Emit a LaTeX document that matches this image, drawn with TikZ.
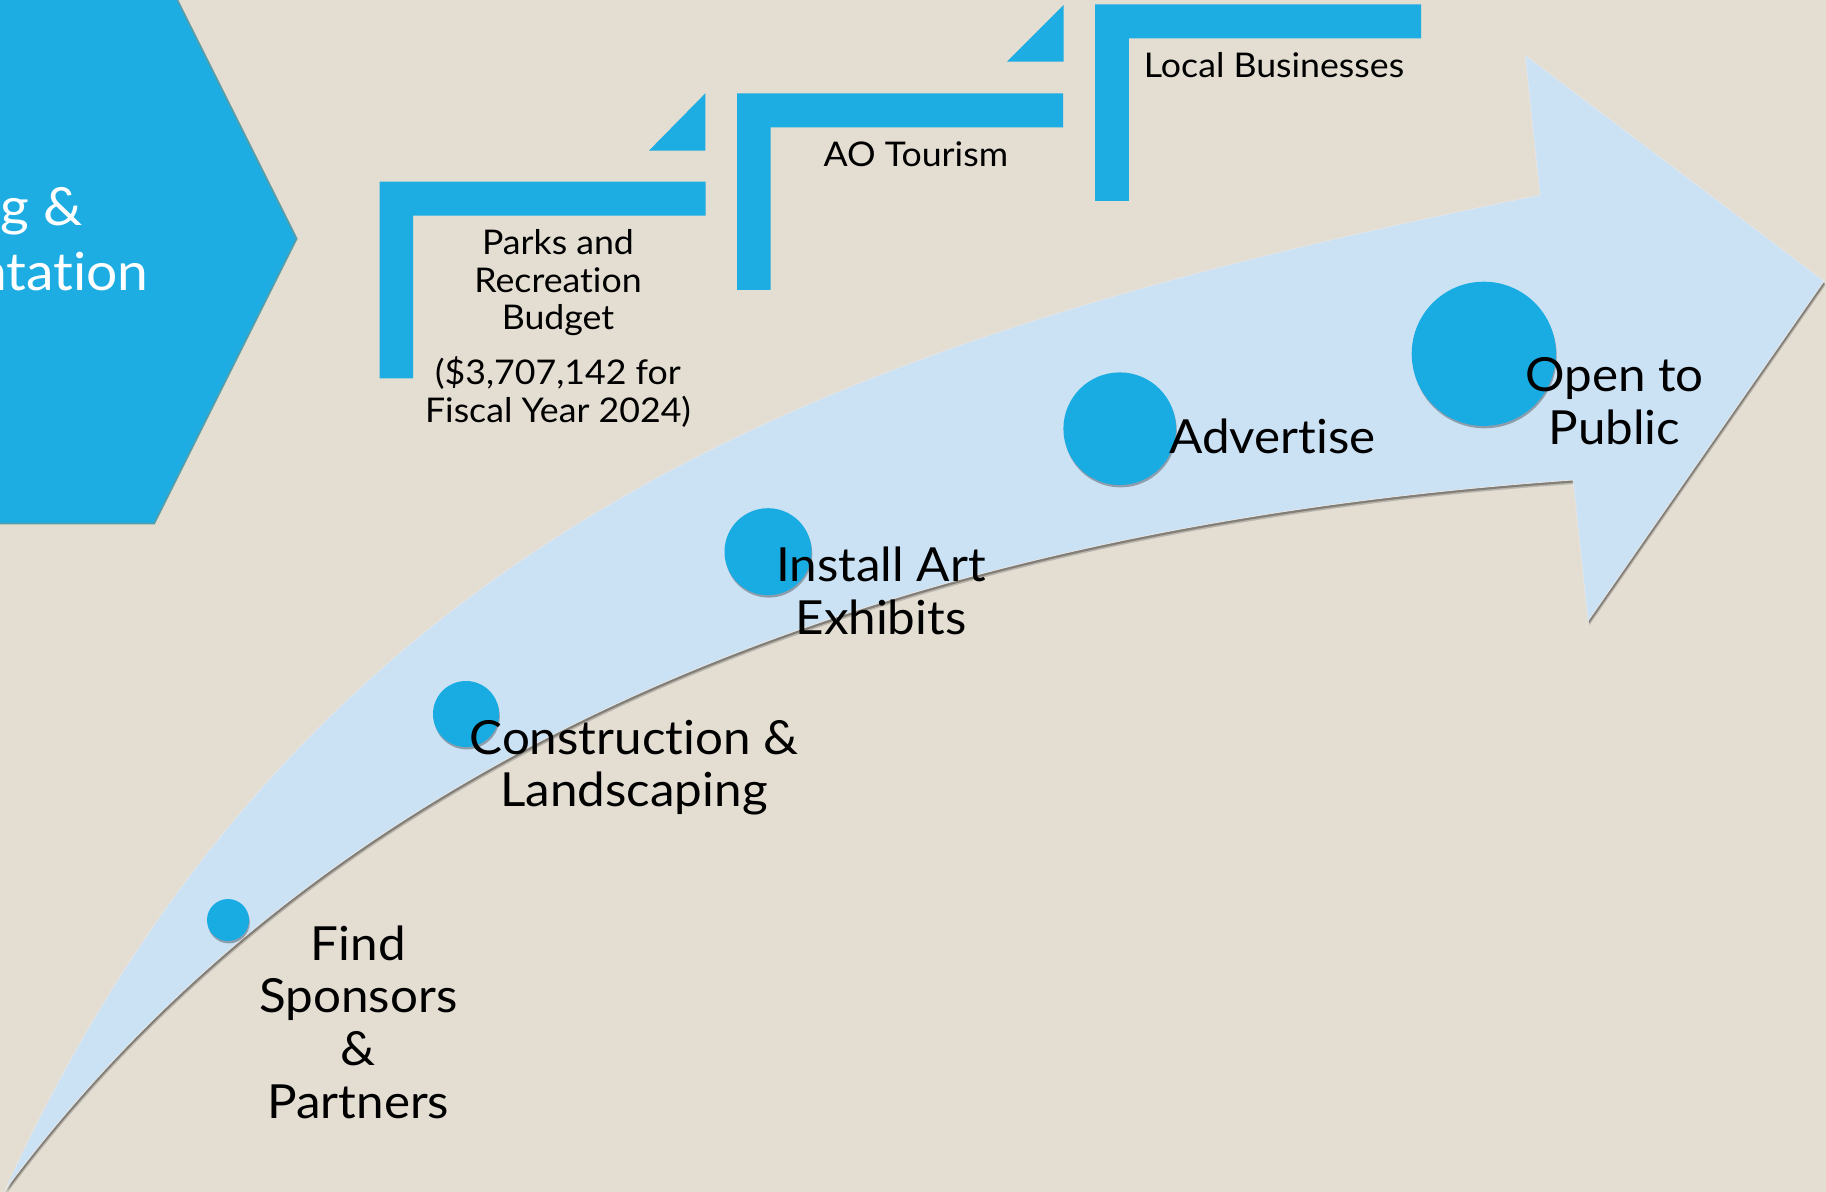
\documentclass[tikz,border=0pt]{standalone}
\usepackage{fontspec}
\setmainfont{Lato}[Ligatures=NoCommon, FakeStretch=1.05]
\usetikzlibrary{shadows}
\definecolor{bgtan}{HTML}{E3DDD2}
\definecolor{hexblue}{HTML}{1EADE3}
\definecolor{dotblue}{HTML}{19ACE3}
\definecolor{arrowblue}{HTML}{CBE2F5}
\definecolor{hexedge}{HTML}{5A9CA6}
\newcommand{\stairstep}[2]{%
  \fill[hexblue] (#1,#2) -- ++(326,0) -- ++(0,34) -- ++(-292.4,0) -- ++(0,162.6) -- ++(-33.6,0) -- cycle;}
\newcommand{\arrowpath}{(5,1190) .. controls (306,528) and (840,335) .. (1540,195) -- (1525,55) -- (1824,281) -- (1588,621) -- (1573,480) .. controls (1023,518.5) and (386,677) .. (5,1190) -- cycle}
\begin{document}
\begin{tikzpicture}[x=0.5pt,y=-0.5pt,
  dot/.style={circle, fill=dotblue, inner sep=0pt, draw=none,
    drop shadow={shadow xshift=0.4pt, shadow yshift=-1.2pt, opacity=0.3, fill=black}},
  mainlabel/.style={anchor=base, inner sep=0pt, font=\fontsize{23.5}{26.35}\selectfont},
  steplabel/.style={anchor=base, inner sep=0pt, font=\fontsize{17}{18.75}\selectfont},
  hexlabel/.style={anchor=base east, inner sep=0pt, text=white, font=\fontsize{26.3}{32.4}\selectfont}]
\useasboundingbox (0,0) rectangle (1826,1192);
\clip (0,0) rectangle (1826,1192);
\fill[bgtan] (0,0) rectangle (1826,1192);

% hexagon
\filldraw[fill=hexblue, draw=hexedge, line width=0.8pt] (-60,-46.2) -- (154.3,-46.2) -- (296.7,238.7) -- (154.3,523.6) -- (-60,523.6) -- cycle;
\node[hexlabel] (hexa) at (83,225.6) {g \&};
\node[hexlabel] (hexb) at (149,290.4) {ntation};

% stairs
\stairstep{379.6}{181.7}
\stairstep{737.1}{93.3}
\stairstep{1095.2}{4.3}
\fill[hexblue] (705.4,150.7) -- (705.4,93.3) -- (648.9,150.7) -- cycle;
\fill[hexblue] (1063.5,61.7) -- (1063.5,5) -- (1007,61.7) -- cycle;

\node[steplabel] (parks) at (558,255) {\begin{tabular}[t]{@{}c@{}}Parks and\\Recreation\\Budget\\[7.85pt](\$3,707,142 for\\Fiscal Year 2024)\end{tabular}};
\node[steplabel] (tourism) at (915.8,166.7) {AO Tourism};
\node[steplabel] (local) at (1274,77.3) {Local Businesses};

% arrow
\fill[black, opacity=0.18, shift={(1.5,4)}] \arrowpath;
\fill[black, opacity=0.30, shift={(1,2.5)}] \arrowpath;
\fill[arrowblue, draw=black!10, line width=0.4pt] \arrowpath;

% dots
\node[dot, minimum size=21pt] (c1) at (228,920) {};
\node[dot, minimum size=33pt] (c2) at (466,714) {};
\node[dot, minimum size=43.5pt] (c3) at (768,551.7) {};
\node[dot, minimum size=56.3pt] (c4) at (1119.7,428.7) {};
\node[dot, minimum size=72.1pt] (c5) at (1483.8,353.8) {};

% labels
\node[mainlabel] (find) at (358.3,960) {\begin{tabular}[t]{@{}c@{}}Find\\Sponsors\\\&\\Partners\end{tabular}};
\node[mainlabel] (constr) at (634,754) {\begin{tabular}[t]{@{}c@{}}Construction \&\\Landscaping\end{tabular}};
\node[mainlabel] (install) at (881,581.7) {\begin{tabular}[t]{@{}c@{}}Install Art\\Exhibits\end{tabular}};
\node[mainlabel] (advert) at (1272.6,453.3) {Advertise};
\node[mainlabel] (open) at (1614.5,392) {\begin{tabular}[t]{@{}c@{}}Open to\\Public\end{tabular}};
\end{tikzpicture}
\end{document}
